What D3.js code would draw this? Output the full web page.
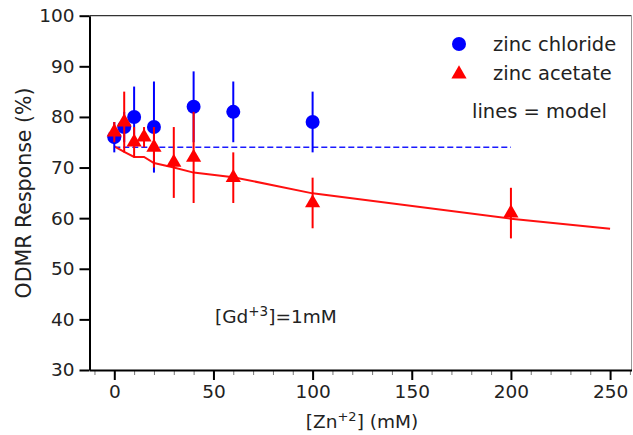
<!DOCTYPE html>
<html><head><meta charset="utf-8">
<script src="https://cdn.jsdelivr.net/npm/d3@7"></script>
<style>
body{margin:0;background:#fff;}
text{font-family:"DejaVu Sans",sans-serif;fill:#222;}
</style></head>
<body>
<svg id="c" width="633" height="435"></svg>
<script>
// Data
const chlorideX   = [0, 5, 10, 20, 40, 60, 100];
const chlorideY   = [76, 78, 80, 78, 82, 81, 79];
const chlorideErr = [3, 3, 6, 9, 7, 6, 6];

const acetateX   = [0, 5, 10, 15, 20, 30, 40, 60, 100, 200];
const acetateY   = [77, 79, 75, 76, 74, 71, 72, 68, 63, 61];
const acetateErr = [2, 6, 3, 2, 4, 7, 9, 5, 5, 5];

const modelAcetateX = [0, 5, 10, 15, 20, 30, 40, 60, 100, 200, 250];
const modelAcetateY = [74.2, 73.1, 72.1, 72.1, 70.9, 70.0, 69.0, 68.1, 64.9, 59.9, 57.9];
const modelChlorideX = [0, 200];
const modelChlorideY = [74, 74];

const xTicks = [0, 50, 100, 150, 200, 250];
const yTicks = [30, 40, 50, 60, 70, 80, 90, 100];

const svg = d3.select("#c");
const L = 89.5, R = 631.5, T = 15.7, B = 370;
const x = d3.scaleLinear().domain([-12.5, 260.8]).range([L, R]);
const y = d3.scaleLinear().domain([30, 100]).range([B, T]);

// frame top/right
svg.append("line").attr("x1", L).attr("x2", R).attr("y1", T).attr("y2", T).attr("stroke", "#333").attr("stroke-width", 1.2);
svg.append("line").attr("x1", R).attr("x2", R).attr("y1", T).attr("y2", B).attr("stroke", "#999").attr("stroke-width", 1);

// axes
const xMinor = d3.range(-10, 261, 10);
const gxm = svg.append("g").attr("transform", `translate(0,${B})`)
  .call(d3.axisBottom(x).tickValues(xMinor).tickSize(5).tickFormat(""));
gxm.select(".domain").remove();
gxm.selectAll("line").attr("stroke", "#777").attr("stroke-width", 1);

const gx = svg.append("g").attr("transform", `translate(0,${B})`)
  .call(d3.axisBottom(x).tickValues(xTicks).tickSize(10).tickPadding(5).tickSizeOuter(0));
gx.select(".domain").attr("stroke", "#000").attr("stroke-width", 2);
gx.selectAll("line").attr("stroke", "#000").attr("stroke-width", 2);
gx.selectAll("text").attr("font-size", 18.5).attr("font-family", "DejaVu Sans").attr("fill", "#222");

const gy = svg.append("g").attr("transform", `translate(${L},0)`)
  .call(d3.axisLeft(y).tickValues(yTicks).tickSize(10).tickPadding(5).tickSizeOuter(0));
gy.select(".domain").attr("stroke", "#000").attr("stroke-width", 2);
gy.selectAll("line").attr("stroke", "#000").attr("stroke-width", 2);
gy.selectAll("text").attr("font-size", 18.5).attr("font-family", "DejaVu Sans").attr("fill", "#222");

// model lines
const line = d3.line().x(d => x(d[0])).y(d => y(d[1]));
svg.append("path").datum(modelChlorideX.map((v, i) => [v, modelChlorideY[i]]))
  .attr("d", line).attr("fill", "none").attr("stroke", "#1a1aff").attr("stroke-width", 1.6)
  .attr("stroke-dasharray", "6,3");
svg.append("path").datum(modelAcetateX.map((v, i) => [v, modelAcetateY[i]]))
  .attr("d", line).attr("fill", "none").attr("stroke", "#ff1010").attr("stroke-width", 2);

// chloride
const blue = "#0000ff", red = "#ff0000";
const gc = svg.append("g");
chlorideX.forEach((v, i) => {
  gc.append("line").attr("x1", x(v)).attr("x2", x(v))
    .attr("y1", y(chlorideY[i] - chlorideErr[i])).attr("y2", y(chlorideY[i] + chlorideErr[i]))
    .attr("stroke", blue).attr("stroke-width", 2);
});
gc.selectAll("circle").data(chlorideX).join("circle")
  .attr("cx", d => x(d)).attr("cy", (d, i) => y(chlorideY[i])).attr("r", 7).attr("fill", blue);

// acetate
const tri = d3.symbol().type(d3.symbolTriangle).size(100);
const ga = svg.append("g");
acetateX.forEach((v, i) => {
  ga.append("line").attr("x1", x(v)).attr("x2", x(v))
    .attr("y1", y(acetateY[i] - acetateErr[i])).attr("y2", y(acetateY[i] + acetateErr[i]))
    .attr("stroke", red).attr("stroke-width", 2);
});
ga.selectAll("path").data(acetateX).join("path")
  .attr("d", tri).attr("transform", (d, i) => `translate(${x(d)},${y(acetateY[i])})`).attr("fill", red);

// axis labels
svg.append("text").attr("x", 362).attr("y", 428).attr("text-anchor", "middle").attr("font-size", 18.5)
  .html('[Zn<tspan dy="-7" font-size="13">+2</tspan><tspan dy="7">] (mM)</tspan>');
svg.append("text").attr("transform", "translate(31,193) rotate(-90)").attr("text-anchor", "middle").attr("font-size", 20.5)
  .text("ODMR Response (%)");

// annotation
svg.append("text").attr("x", 215).attr("y", 323).attr("font-size", 18.5)
  .html('[Gd<tspan dy="-7" font-size="13.5">+3</tspan><tspan dy="7">]=1mM</tspan>');

// legend
svg.append("circle").attr("cx", 459).attr("cy", 44).attr("r", 7).attr("fill", blue);
svg.append("path").attr("d", tri).attr("transform", "translate(459,74)").attr("fill", red);
svg.append("text").attr("x", 493).attr("y", 51).attr("font-size", 19.5).text("zinc chloride");
svg.append("text").attr("x", 493).attr("y", 80).attr("font-size", 19.5).text("zinc acetate");
svg.append("text").attr("x", 472).attr("y", 118).attr("font-size", 19.5).text("lines = model");
</script>
</body></html>
